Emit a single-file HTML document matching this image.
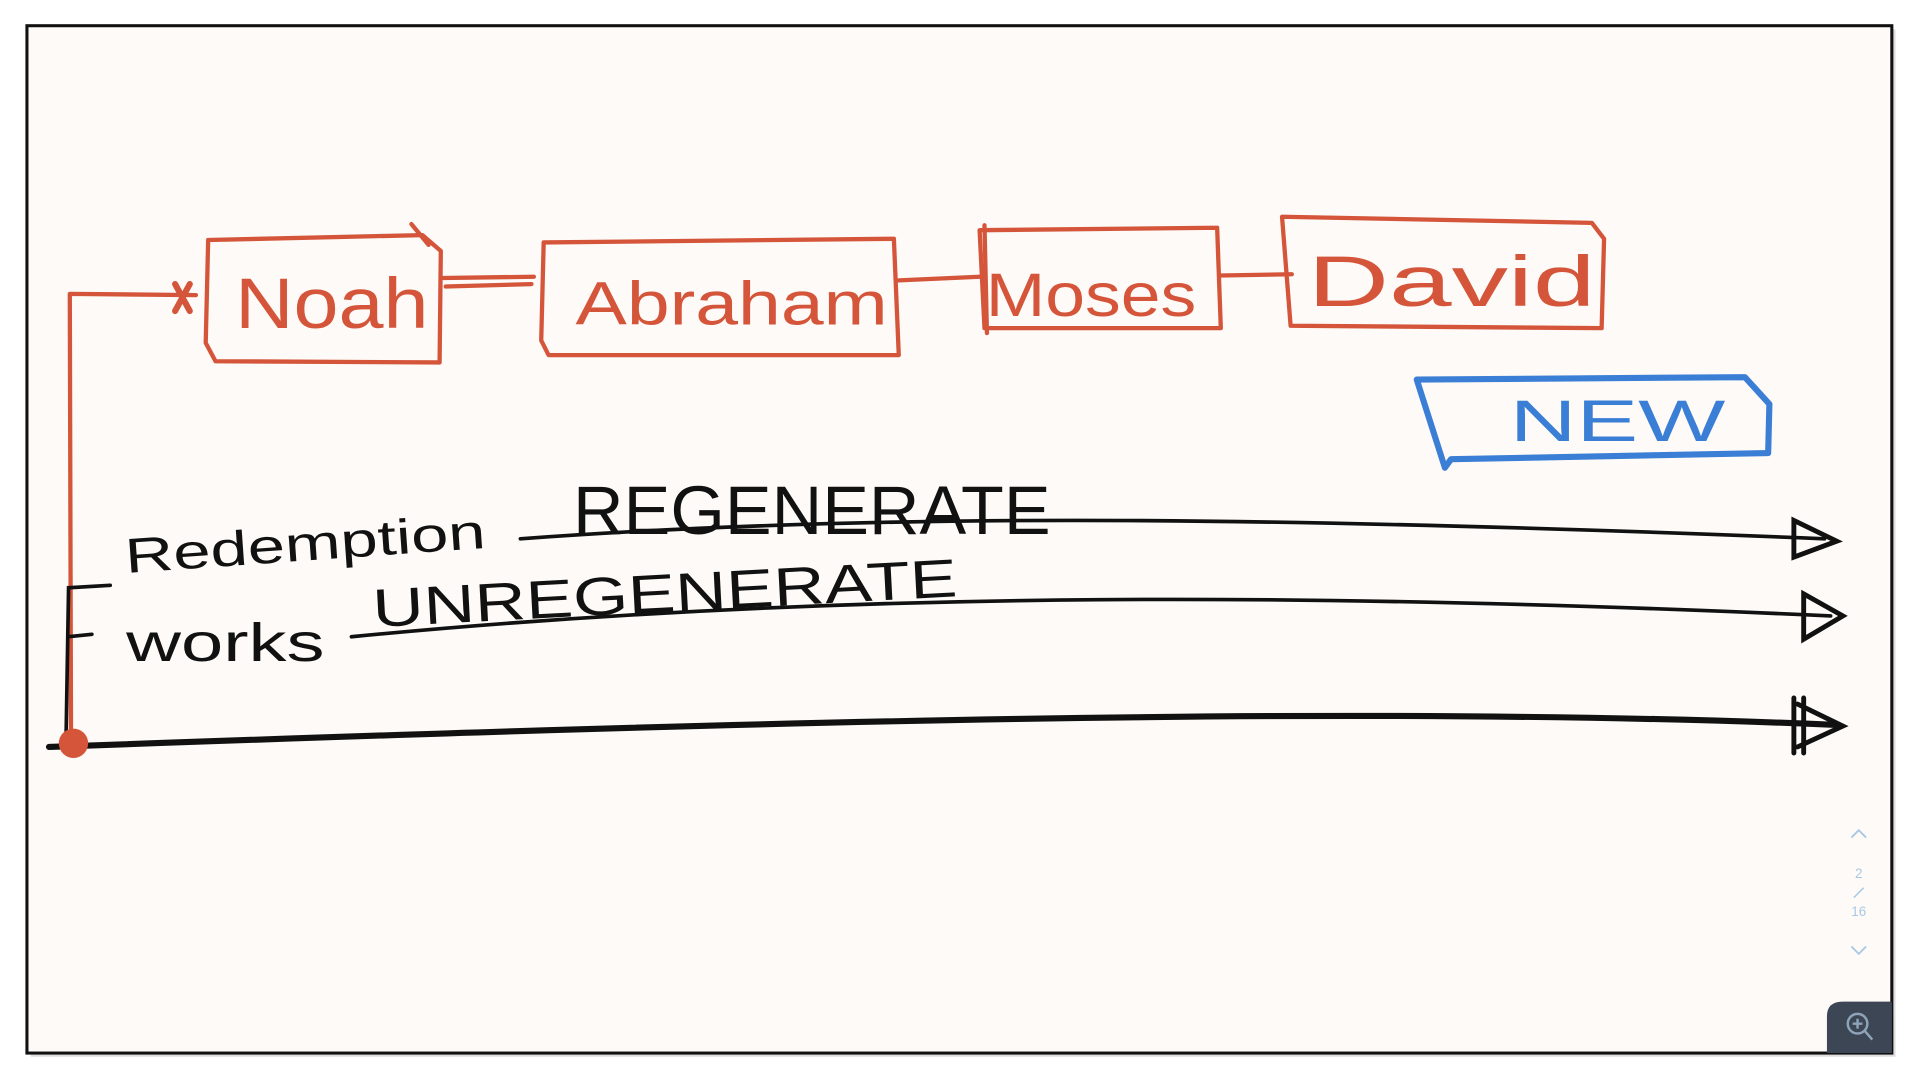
<!DOCTYPE html>
<html><head><meta charset="utf-8"><style>
html,body{margin:0;padding:0;background:#fff;width:1920px;height:1080px;overflow:hidden}
svg{display:block}
text{font-family:"Liberation Sans","DejaVu Sans",sans-serif}
</style></head><body>
<svg width="1920" height="1080" viewBox="0 0 1568 882" preserveAspectRatio="none">
<rect x="0" y="0" width="1568" height="882" fill="#fff"/>
<rect x="25" y="24" width="1523" height="839" fill="#bbb" opacity="0.5"/>
<rect x="22" y="21" width="1523" height="839" fill="#fdfaf7" stroke="#111" stroke-width="2.5"/>
<g fill="none" stroke="#d4553a" stroke-width="3.5" stroke-linecap="round" stroke-linejoin="round">
<path d="M58 605 L57 240 L160 241"/>
<path d="M143 232 L155 254 M155 232 L143 254" stroke-width="5"/>
<path d="M170 196 L345 192 L360 205 L359 296 L176 295 L168 280 Z"/>
<path d="M336 183 L350 200"/>
<path d="M362 227 L436 226 M364 234 L434 232"/>
<path d="M444 198 L730 195 L734 290 L448 290 L442 278 Z"/>
<path d="M734 229 L800 226"/>
<path d="M800 188 L994 186 L997 268 L804 268 Z"/>
<path d="M804 184 L806 272"/>
<path d="M997 225 L1055 224"/>
<path d="M1047 177 L1300 182 L1310 195 L1308 268 L1054 266 Z"/>
</g>
<g fill="#d4553a" font-size="58">
<text x="192" y="268" textLength="158" lengthAdjust="spacingAndGlyphs">Noah</text>
<text x="470" y="265" textLength="255" lengthAdjust="spacingAndGlyphs" font-size="50">Abraham</text>
<text x="805" y="258" textLength="172" lengthAdjust="spacingAndGlyphs" font-size="50">Moses</text>
<text x="1068" y="250" textLength="235" lengthAdjust="spacingAndGlyphs">David</text>
</g>
<path d="M1157 310 L1425 308 L1445 330 L1444 370 L1185 375 L1180 382 Z" fill="none" stroke="#3a7fd5" stroke-width="5" stroke-linejoin="round"/>
<text x="1233" y="360" font-size="48" fill="#3a7fd5" textLength="176" lengthAdjust="spacingAndGlyphs">NEW</text>
<g fill="none" stroke="#111" stroke-linecap="round">
<path d="M425 440 C700 420 1000 420 1490 440" stroke-width="3"/>
<path d="M1465 425 L1500 442 L1465 455 Z" stroke-width="4"/>
<path d="M287 520 C700 480 1100 485 1495 503" stroke-width="3"/>
<path d="M1473 485 L1505 503 L1473 522 Z" stroke-width="4"/>
<path d="M40 610 C600 590 1100 575 1500 592" stroke-width="5"/>
<path d="M1465 570 L1465 615 M1473 570 L1473 615 M1468 575 L1505 593 L1468 610" stroke-width="4"/>
<path d="M90 478 L56 480 L54 600 M56 520 L75 518" stroke-width="3"/>
</g>
<circle cx="60" cy="607" r="12" fill="#d4553a"/>
<g fill="#111">
<text x="468" y="436" font-size="56" textLength="390" lengthAdjust="spacingAndGlyphs">REGENERATE</text>
<text x="305" y="512" font-size="44" textLength="478" lengthAdjust="spacingAndGlyphs" transform="rotate(-3 305 512)">UNREGENERATE</text>
<text x="103" y="468" font-size="40" textLength="295" lengthAdjust="spacingAndGlyphs" transform="rotate(-4 103 468)">Redemption</text>
<text x="103" y="540" font-size="44" textLength="162" lengthAdjust="spacingAndGlyphs">works</text>
</g>
<g fill="#a9c8e6" stroke="#a9c8e6" font-size="11" text-anchor="middle">
<path d="M1512 684 L1518 678 L1524 684 M1512 773 L1518 779 L1524 773" fill="none" stroke-width="1.5"/>
<text x="1518" y="717" stroke="none">2</text>
<path d="M1514 733 L1522 725" stroke-width="1.2"/>
<text x="1518" y="748" stroke="none">16</text>
</g>
<path d="M1492 860 L1492 830 Q1492 818 1505 818 L1545 818 L1545 860 Z" fill="#3c4654"/>
<circle cx="1517" cy="836" r="8" fill="none" stroke="#8fa3b8" stroke-width="2"/>
<path d="M1523 842 L1529 849 M1517 832 L1517 840 M1513 836 L1521 836" stroke="#8fa3b8" stroke-width="2"/>
</svg>
</body></html>
